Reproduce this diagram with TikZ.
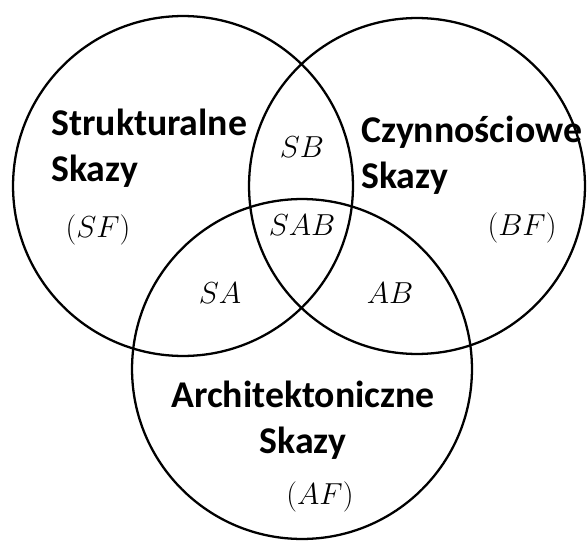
\documentclass[tikz,border=0pt]{standalone}
\usepackage{fontspec}
\newfontfamily\setfont{Carlito}

\begin{document}
\begin{tikzpicture}[
  x=0.02cm, y=-0.02cm,
  set/.style={circle, draw, line width=1.3pt, inner sep=0pt, outer sep=0pt},
  setname/.style={font=\setfont\bfseries\fontsize{21.5}{26}\selectfont, inner sep=0pt},
  region/.style={font=\fontsize{17}{20}\selectfont, inner sep=0pt}
]
\useasboundingbox (0,0) rectangle (588,541);

% the three sets
\node[set, minimum size=6.8cm]  (sf) at (183,186) {};
\node[set, minimum size=6.72cm] (bf) at (417,186) {};
\node[set, minimum size=6.8cm]  (af) at (302,369) {};

% names of the sets
\node[setname, align=left, anchor=north west]   (sfname) at (51,109) {Strukturalne\\Skazy};
\node[setname, align=left, anchor=north west]   (bfname) at (361,116) {Czynnościowe\\Skazy};
\node[setname, align=center, anchor=north]      (afname) at (303,381) {Architektoniczne\\Skazy};

% regions
\node[region] (sflabel) at (98,230)  {$(SF)$};
\node[region] (bflabel) at (522,228) {$(BF)$};
\node[region] (aflabel) at (320,497) {$(AF)$};
\node[region] (sb)  at (302,147) {$SB$};
\node[region] (sab) at (302,225) {$SAB$};
\node[region] (sa)  at (220,293) {$SA$};
\node[region] (ab)  at (390,293) {$AB$};

\end{tikzpicture}
\end{document}
